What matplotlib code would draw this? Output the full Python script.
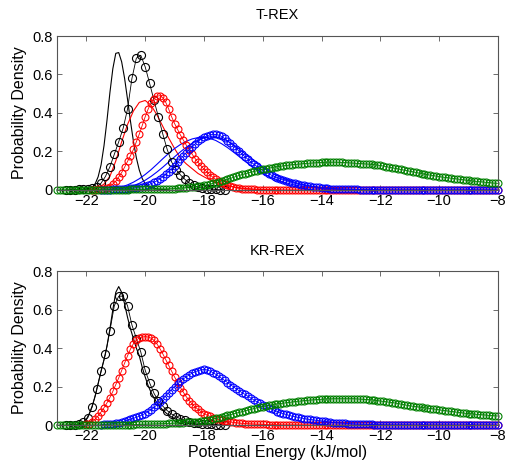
import numpy as np
import matplotlib
matplotlib.use('Agg')
import matplotlib.pyplot as plt

plt.rcParams['font.family'] = ['Liberation Sans', 'DejaVu Sans']

# x axis range shown (kJ/mol)
X_MIN, X_MAX = -23.0, -8.0
x_ticks = [-22, -20, -18, -16, -14, -12, -10, -8]
y_ticks = [0, 0.2, 0.4, 0.6, 0.8]
y_ticklabels = ['0', '0.2', '0.4', '0.6', '0.8']
titles = ['T-REX', 'KR-REX']

# ---- T-REX (top) ----
# solid reference lines: (first x, x step, densities)
trex_black_line = (-22.2, 0.1, [
    0.0, 0.001, 0.003, 0.006, 0.014, 0.032, 0.068, 0.13, 0.23, 0.36, 0.505,
    0.63, 0.71, 0.714, 0.666, 0.58, 0.471, 0.357, 0.253, 0.167, 0.103, 0.059,
    0.032, 0.02, 0.013, 0.008, 0.005, 0.003, 0.002, 0.001, 0.0])
trex_red_line = (-22.0, 0.2, [
    0.0, 0.003, 0.01, 0.03, 0.07, 0.15, 0.25, 0.34, 0.41, 0.455, 0.465,
    0.44, 0.39, 0.33, 0.27, 0.215, 0.165, 0.135, 0.11, 0.085, 0.068, 0.052,
    0.04, 0.03, 0.022, 0.016, 0.011, 0.007, 0.005, 0.003, 0.002, 0.001, 0.0])
trex_blue_line1 = (-21.2, 0.2, [
    0.003, 0.008, 0.015, 0.026, 0.04, 0.058, 0.08, 0.105, 0.133, 0.162,
    0.19, 0.215, 0.236, 0.253, 0.265, 0.272, 0.273, 0.268, 0.257, 0.24,
    0.22, 0.197, 0.173, 0.149, 0.126, 0.105, 0.086, 0.07, 0.057, 0.046,
    0.036, 0.028, 0.022, 0.017, 0.013, 0.01, 0.007, 0.005, 0.004, 0.003,
    0.002, 0.001, 0.001, 0.0])
trex_blue_line2 = (-21.0, 0.2, [
    0.003, 0.007, 0.013, 0.022, 0.034, 0.05, 0.07, 0.093, 0.118, 0.145,
    0.172, 0.198, 0.222, 0.243, 0.259, 0.27, 0.276, 0.276, 0.268, 0.254,
    0.235, 0.212, 0.188, 0.164, 0.14, 0.118, 0.098, 0.081, 0.066, 0.053,
    0.043, 0.034, 0.027, 0.021, 0.016, 0.012, 0.009, 0.007, 0.005, 0.004,
    0.003, 0.002, 0.001, 0.0])

# circle-marked histograms
trex_black_pts = (-22.7, 0.15, [
    0.0, 0.0, 0.001, 0.002, 0.004, 0.007, 0.012, 0.015, 0.035, 0.07, 0.12,
    0.185, 0.25, 0.32, 0.42, 0.58, 0.685, 0.70, 0.64, 0.555, 0.465, 0.38,
    0.29, 0.21, 0.145, 0.105, 0.078, 0.055, 0.036, 0.023, 0.014, 0.009,
    0.006, 0.004, 0.002, 0.001, 0.0])
trex_red_pts = (-21.8, 0.1, [
    0.0, 0.001, 0.002, 0.004, 0.006, 0.01, 0.017, 0.03, 0.045, 0.068, 0.09,
    0.118, 0.148, 0.178, 0.21, 0.25, 0.29, 0.335, 0.38, 0.42, 0.452, 0.474,
    0.487, 0.49, 0.48, 0.455, 0.42, 0.38, 0.345, 0.315, 0.285, 0.258, 0.232,
    0.208, 0.185, 0.163, 0.143, 0.125, 0.108, 0.093, 0.079, 0.066, 0.055,
    0.045, 0.036, 0.029, 0.023, 0.018, 0.014, 0.011, 0.008, 0.006, 0.005,
    0.004, 0.003, 0.002, 0.0015, 0.001])
trex_blue_pts = (-21.5, 0.1, [
    0.0, 0.0, 0.001, 0.001, 0.002, 0.002, 0.003, 0.004, 0.005, 0.006, 0.008,
    0.010, 0.012, 0.014, 0.017, 0.021, 0.026, 0.032, 0.039, 0.047, 0.057,
    0.068, 0.081, 0.095, 0.11, 0.126, 0.143, 0.16, 0.177, 0.194, 0.21, 0.225,
    0.239, 0.252, 0.263, 0.273, 0.281, 0.286, 0.289, 0.288, 0.285, 0.278,
    0.268, 0.256, 0.243, 0.229, 0.215, 0.201, 0.186, 0.172, 0.158, 0.145,
    0.133, 0.122, 0.111, 0.101, 0.092, 0.084, 0.076, 0.069, 0.063, 0.057,
    0.052, 0.047, 0.042, 0.038, 0.034, 0.030, 0.027, 0.024, 0.021, 0.019,
    0.017, 0.015, 0.013, 0.011, 0.010, 0.008, 0.007, 0.006, 0.005, 0.004,
    0.004, 0.003, 0.003, 0.002, 0.002, 0.002, 0.001, 0.001, 0.001, 0.001,
    0.001, 0.001, 0.001, 0.001])
trex_green_pts = (-23.0, 0.1, [0.0] * 21 + [
    0.001, 0.001, 0.001, 0.001, 0.002, 0.002, 0.002, 0.002, 0.003, 0.003,
    0.003, 0.004, 0.004, 0.004, 0.005, 0.005, 0.005, 0.006, 0.006,
    0.007, 0.008, 0.009, 0.010, 0.012, 0.013, 0.014, 0.016, 0.018, 0.020,
    0.023, 0.026, 0.030, 0.034, 0.038, 0.042, 0.046, 0.050, 0.055, 0.060,
    0.065, 0.070, 0.075, 0.080, 0.084, 0.088, 0.092, 0.096, 0.100, 0.104,
    0.107, 0.110, 0.113, 0.116, 0.119, 0.121, 0.123, 0.125, 0.127, 0.129,
    0.131, 0.132, 0.134, 0.135, 0.137, 0.138, 0.139, 0.140, 0.141, 0.142,
    0.143, 0.143, 0.144, 0.144, 0.144, 0.144, 0.143, 0.143, 0.142, 0.141,
    0.140, 0.139, 0.138, 0.137, 0.136, 0.135, 0.134, 0.133, 0.131, 0.129,
    0.127, 0.124, 0.121, 0.118, 0.115, 0.112, 0.109, 0.106, 0.103, 0.100,
    0.097, 0.094, 0.091, 0.088, 0.085, 0.082, 0.079, 0.077, 0.074, 0.072,
    0.069, 0.067, 0.065, 0.063, 0.061, 0.059, 0.057, 0.055, 0.053, 0.051,
    0.049, 0.047, 0.045, 0.044, 0.042, 0.041, 0.039, 0.038, 0.036, 0.035,
    0.034])

# ---- KR-REX (bottom) ----
krrex_black_line = (-22.3, 0.1, [
    0.0, 0.003, 0.012, 0.03, 0.06, 0.1, 0.15, 0.215, 0.28, 0.34, 0.41, 0.5,
    0.6, 0.69, 0.72, 0.69, 0.63, 0.56, 0.5, 0.45, 0.4, 0.36, 0.3, 0.25,
    0.205, 0.17, 0.14, 0.115, 0.095, 0.078, 0.064, 0.052, 0.042, 0.034,
    0.027, 0.021, 0.016, 0.012, 0.009, 0.006, 0.004, 0.003, 0.002, 0.001,
    0.0])
krrex_black_pts = (-22.7, 0.15, [
    0.0, 0.0, 0.001, 0.004, 0.014, 0.038, 0.095, 0.185, 0.28, 0.37, 0.49,
    0.62, 0.67, 0.67, 0.62, 0.52, 0.45, 0.38, 0.285, 0.22, 0.165, 0.125,
    0.098, 0.075, 0.057, 0.043, 0.033, 0.025, 0.018, 0.013, 0.009, 0.006,
    0.004, 0.003, 0.002, 0.001, 0.0])
krrex_red_pts = (-22.0, 0.1, [
    0.003, 0.008, 0.016, 0.03, 0.048, 0.068, 0.09, 0.115, 0.143, 0.175,
    0.21, 0.245, 0.283, 0.322, 0.36, 0.395, 0.423, 0.442, 0.453, 0.458,
    0.46, 0.458, 0.452, 0.44, 0.422, 0.398, 0.37, 0.34, 0.31, 0.28, 0.25,
    0.222, 0.195, 0.17, 0.147, 0.127, 0.109, 0.094, 0.081, 0.07, 0.06,
    0.052, 0.045, 0.039, 0.034, 0.029, 0.025, 0.022, 0.019, 0.016, 0.014,
    0.012, 0.01, 0.009, 0.008, 0.007, 0.006, 0.005, 0.004, 0.004, 0.003,
    0.003, 0.002, 0.002, 0.002, 0.001, 0.001, 0.001, 0.001, 0.001, 0.001,
    0.001, 0.001, 0.001, 0.001, 0.001])
krrex_blue_pts = (-21.5, 0.1, [
    0.002, 0.003, 0.004, 0.005, 0.007, 0.009, 0.012, 0.016, 0.02, 0.025,
    0.03, 0.035, 0.04, 0.046, 0.053, 0.06, 0.069, 0.08, 0.092, 0.105, 0.12,
    0.136, 0.152, 0.168, 0.184, 0.2, 0.214, 0.228, 0.24, 0.251, 0.261,
    0.27, 0.277, 0.283, 0.287, 0.289, 0.287, 0.281, 0.273, 0.264, 0.254,
    0.243, 0.232, 0.221, 0.21, 0.199, 0.188, 0.178, 0.168, 0.159, 0.149,
    0.14, 0.13, 0.121, 0.113, 0.105, 0.097, 0.09, 0.083, 0.076, 0.07,
    0.064, 0.059, 0.055, 0.05, 0.046, 0.043, 0.04, 0.037, 0.034, 0.031,
    0.029, 0.027, 0.025, 0.023, 0.021, 0.019, 0.017, 0.015, 0.013, 0.012,
    0.011, 0.01, 0.009, 0.008, 0.007, 0.006, 0.005, 0.005, 0.004, 0.004,
    0.003, 0.003, 0.002, 0.002, 0.002, 0.001, 0.001, 0.001, 0.001, 0.001,
    0.001, 0.001, 0.001, 0.001, 0.001])
krrex_green_pts = (-23.0, 0.1, [0.0] * 21 + [
    0.001, 0.001, 0.001, 0.002, 0.002, 0.002, 0.003, 0.003, 0.004, 0.004,
    0.005, 0.005, 0.006, 0.006, 0.007, 0.007, 0.008, 0.009, 0.009,
    0.010, 0.011, 0.012, 0.013, 0.014, 0.015, 0.016, 0.017, 0.018, 0.020,
    0.022, 0.025, 0.028, 0.031, 0.035, 0.038, 0.042, 0.046, 0.050, 0.054,
    0.058, 0.062, 0.066, 0.070, 0.074, 0.078, 0.082, 0.086, 0.090, 0.093,
    0.096, 0.099, 0.102, 0.105, 0.108, 0.110, 0.112, 0.114, 0.116, 0.118,
    0.120, 0.122, 0.124, 0.125, 0.127, 0.128, 0.130, 0.131, 0.132, 0.133,
    0.134, 0.135, 0.136, 0.136, 0.137, 0.137, 0.137, 0.137, 0.137, 0.137,
    0.137, 0.137, 0.136, 0.135, 0.134, 0.133, 0.132, 0.131, 0.129, 0.127,
    0.125, 0.123, 0.121, 0.119, 0.117, 0.115, 0.112, 0.109, 0.106, 0.103,
    0.100, 0.098, 0.096, 0.094, 0.092, 0.090, 0.088, 0.086, 0.084, 0.082,
    0.079, 0.077, 0.075, 0.073, 0.071, 0.069, 0.067, 0.065, 0.063, 0.061,
    0.060, 0.058, 0.057, 0.055, 0.054, 0.053, 0.052, 0.050, 0.049, 0.048,
    0.047])


def series(spec, pad_to=None):
    x0, step, ys = spec
    ys = list(ys)
    if pad_to is not None:
        # histogram keeps going at zero up to the right end of the axis
        n_total = int(round((pad_to - x0) / step)) + 1
        ys = ys + [0.0] * max(0, n_total - len(ys))
    xs = x0 + step * np.arange(len(ys))
    return xs, np.array(ys)


GREEN = '#008000'
FRAME = '#555555'


def draw_panel(ax, lines, points, title):
    for spec, color in lines:
        x, y = series(spec)
        ax.plot(x, y, '-', color=color, lw=0.8)
    for spec, color, pad, ms in points:
        x, y = series(spec, X_MAX if pad else None)
        ax.plot(x, y, '-o', color=color, lw=0.6, ms=ms, mew=0.8,
                mfc='none', clip_on=False)
    ax.set_xlim(X_MIN, X_MAX)
    ax.set_ylim(0, 0.8)
    ax.set_xticks(x_ticks)
    ax.set_yticks(y_ticks)
    ax.set_yticklabels(y_ticklabels)
    ax.tick_params(direction='in', top=True, right=True, length=3.5,
                   width=0.6, labelsize=10.5, color=FRAME, pad=3)
    for s in ax.spines.values():
        s.set_color(FRAME)
        s.set_linewidth(0.8)
    ax.set_title(title, fontsize=10.5, pad=12)
    ax.set_ylabel('Probability Density', fontsize=11.5, labelpad=4)


fig = plt.figure(figsize=(5.06, 4.62), dpi=100)
ax1 = fig.add_axes([0.1126, 0.589, 0.8715, 0.333])
ax2 = fig.add_axes([0.1126, 0.080, 0.8715, 0.333])

draw_panel(ax1,
           [(trex_black_line, 'black'), (trex_red_line, 'red'),
            (trex_blue_line1, 'blue'), (trex_blue_line2, 'blue')],
           [(trex_black_pts, 'black', False, 5.8), (trex_red_pts, 'red', True, 5),
            (trex_blue_pts, 'blue', True, 5), (trex_green_pts, GREEN, False, 5)],
           titles[0])
draw_panel(ax2,
           [(krrex_black_line, 'black')],
           [(krrex_black_pts, 'black', False, 5.8), (krrex_red_pts, 'red', True, 5),
            (krrex_blue_pts, 'blue', True, 5), (krrex_green_pts, GREEN, False, 5)],
           titles[1])
ax2.set_xlabel('Potential Energy (kJ/mol)', fontsize=11.5, labelpad=1)

fig.savefig('out.png', dpi=100)
